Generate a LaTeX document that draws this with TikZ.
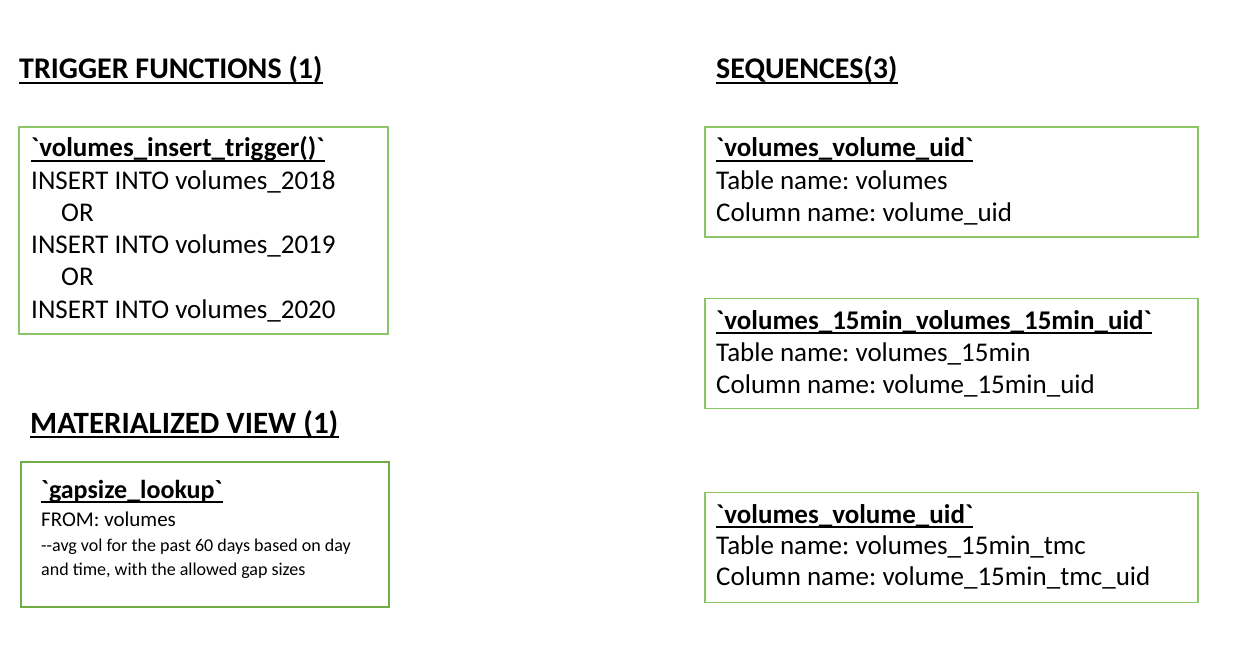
\documentclass[tikz,border=0pt]{standalone}
\usepackage{fontspec}
\newfontfamily\sheetfont{Carlito}
\definecolor{boxgreen}{HTML}{8CC46A}
\definecolor{viewgreen}{HTML}{70AD47}
\newcommand{\underrule}[2]{%
  \draw[line width=#2] ([yshift=-4pt]#1.base west) -- ([yshift=-4pt]#1.base east);%
}

\begin{document}
\frenchspacing
\begin{tikzpicture}[
  x=1pt,
  y=-1pt,
  every node/.style={inner sep=0pt, anchor=base west},
  heading/.style={font=\sheetfont\bfseries\fontsize{30}{34}\selectfont},
  boxhead/.style={font=\sheetfont\bfseries\fontsize{27}{32}\selectfont},
  line/.style={font=\sheetfont\fontsize{27}{32}\selectfont},
  seqbox/.style={draw=boxgreen, line width=1.4pt, anchor=center, minimum width=493pt, minimum height=110pt},
  trigbox/.style={draw=boxgreen, line width=1.4pt, anchor=center, minimum width=369pt, minimum height=207pt},
  viewbox/.style={draw=viewgreen, line width=2.4pt, anchor=center, minimum width=368pt, minimum height=145pt}
]
  \useasboundingbox (0,0) rectangle (1242,652);

  % Trigger function.
  \node[heading] (tfhead) at (19,79) {TRIGGER FUNCTIONS (1)};
  \node[trigbox] (trig) at (203.5,230.5) {};
  \node[boxhead] (trigname) at (31,157) {`volumes\_insert\_trigger()`};
  \node[line] (ins18) at (31,190) {INSERT INTO volumes\_2018};
  \node[line] (or1) at (61,222) {OR};
  \node[line] (ins19) at (31,254) {INSERT INTO volumes\_2019};
  \node[line] (or2) at (61,286) {OR};
  \node[line] (ins20) at (31,318) {INSERT INTO volumes\_2020};

  % Materialized view.
  \node[heading, font=\sheetfont\bfseries\fontsize{31}{35}\selectfont] (mvhead) at (30,433) {MATERIALIZED VIEW (1)};
  \node[viewbox] (view) at (205,534.5) {};
  \node[boxhead, font=\sheetfont\bfseries\fontsize{26}{30}\selectfont] (viewname) at (41,498) {`gapsize\_lookup`};
  \node[line, font=\sheetfont\fontsize{21}{24}\selectfont] (viewfrom) at (41,526) {FROM: volumes};
  \node[line, font=\sheetfont\fontsize{18}{22}\selectfont] (viewnote1) at (41,551) {--avg vol for the past 60 days based on day};
  \node[line, font=\sheetfont\fontsize{18}{22}\selectfont] (viewnote2) at (41,575) {and time, with the allowed gap sizes};

  % Sequences.
  \node[heading] (seqhead) at (716,79) {SEQUENCES(3)};

  \node[seqbox] (seqA) at (951.5,182) {};
  \node[boxhead] (seqAname) at (716,157) {`volumes\_volume\_uid`};
  \node[line] (seqAtab) at (716,190) {Table name: volumes};
  \node[line] (seqAcol) at (716,222) {Column name: volume\_uid};

  \node[seqbox] (seqB) at (951.5,353.5) {};
  \node[boxhead] (seqBname) at (716,329) {`volumes\_15min\_volumes\_15min\_uid`};
  \node[line] (seqBtab) at (716,361) {Table name: volumes\_15min};
  \node[line] (seqBcol) at (716,393) {Column name: volume\_15min\_uid};

  \node[seqbox] (seqC) at (951.5,547.5) {};
  \node[boxhead] (seqCname) at (716,523) {`volumes\_volume\_uid`};
  \node[line] (seqCtab) at (716,554) {Table name: volumes\_15min\_tmc};
  \node[line] (seqCcol) at (716,585) {Column name: volume\_15min\_tmc\_uid};

  % Underlines.
  \underrule{tfhead}{2pt}
  \underrule{mvhead}{2pt}
  \underrule{seqhead}{2pt}
  \underrule{trigname}{2pt}
  \underrule{viewname}{2pt}
  \underrule{seqAname}{2pt}
  \underrule{seqBname}{2pt}
  \underrule{seqCname}{2pt}
\end{tikzpicture}
\end{document}
